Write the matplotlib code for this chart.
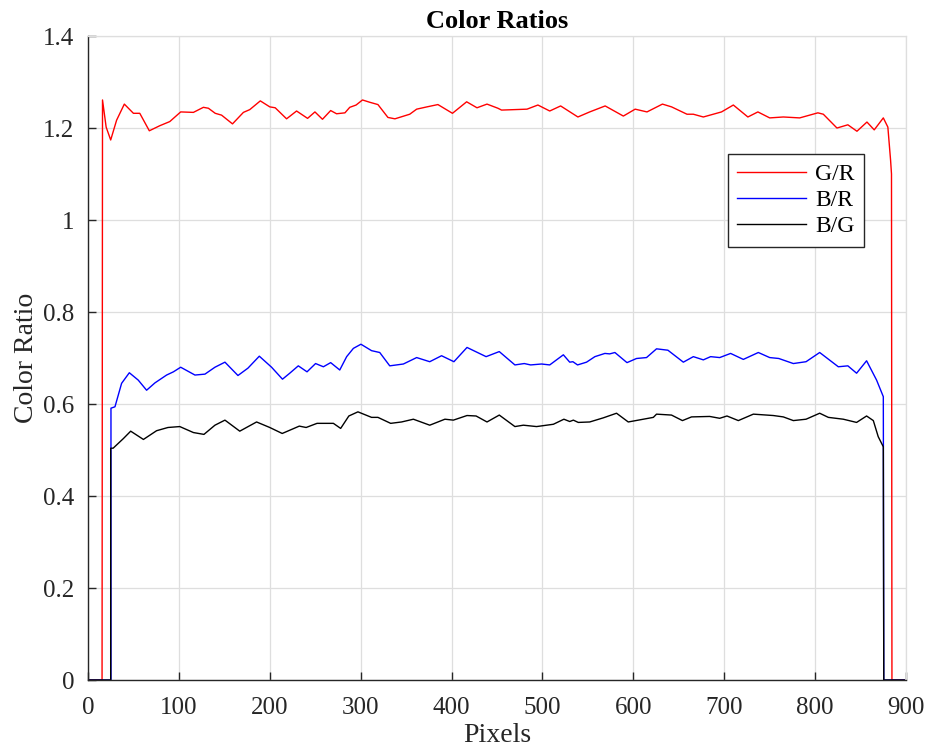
import matplotlib.pyplot as plt

plt.rcParams['font.family'] = ['Liberation Serif', 'DejaVu Serif']

# G/R ratio along the pixel row
gr_x = [1, 15.5, 16, 20, 25, 31.5, 40, 50, 57, 67.5, 79, 90, 102, 116, 127, 132.5,
        140, 147, 159, 171, 178, 189.6, 200, 206, 218.5, 229.5, 241.6, 249.7, 258,
        267, 273.5, 282.7, 288, 295, 302, 310, 319, 330, 337.7, 354, 361.6, 373, 385,
        401, 416.6, 428, 439, 451, 455, 483, 495, 508, 520, 539, 552, 569, 589, 602,
        615, 632, 642, 659, 666, 677, 697, 710, 726, 737, 750, 765, 783, 803, 809,
        824, 836, 846, 857, 865, 875, 880, 883, 884, 884.5, 898]
gr_y = [0, 0, 1.261, 1.202, 1.174, 1.217, 1.252, 1.232, 1.232, 1.194, 1.205, 1.214,
        1.235, 1.234, 1.245, 1.243, 1.232, 1.228, 1.209, 1.234, 1.240, 1.259, 1.246,
        1.244, 1.220, 1.237, 1.221, 1.235, 1.219, 1.238, 1.231, 1.233, 1.245, 1.250,
        1.261, 1.256, 1.251, 1.223, 1.220, 1.230, 1.241, 1.246, 1.251, 1.232, 1.257,
        1.244, 1.252, 1.243, 1.239, 1.241, 1.250, 1.237, 1.248, 1.224, 1.235, 1.248,
        1.226, 1.241, 1.235, 1.252, 1.246, 1.230, 1.230, 1.224, 1.235, 1.250, 1.224,
        1.235, 1.222, 1.224, 1.222, 1.233, 1.230, 1.200, 1.207, 1.193, 1.213, 1.196,
        1.222, 1.202, 1.13, 1.10, 0, 0]

# B/R ratio
br_x = [1, 25.3, 25.3, 29.7, 37, 45.5, 55.3, 64.5, 73.7, 86.5, 94, 102, 117.7, 128.7,
        139.7, 150.7, 165, 176, 188.5, 202, 214, 222, 231.4, 241, 250.4, 259, 267, 277,
        284.6, 292, 300.3, 312, 321, 332, 347, 361.6, 376, 389, 402.6, 417, 438, 452.5,
        469.7, 480, 487, 499, 508, 523, 530, 533.5, 538.6, 548.5, 557.7, 568.7, 574,
        579.7, 593, 603.5, 614.5, 625.5, 638, 655, 666, 677, 685, 695, 707, 721, 737.5,
        750, 760, 776, 790, 805, 825.5, 836, 845.6, 856.6, 867.6, 875, 875.5, 898]
br_y = [0, 0, 0.591, 0.594, 0.645, 0.668, 0.652, 0.630, 0.646, 0.663, 0.670, 0.680,
        0.663, 0.665, 0.680, 0.691, 0.662, 0.678, 0.704, 0.680, 0.654, 0.667, 0.683,
        0.670, 0.688, 0.681, 0.690, 0.674, 0.703, 0.721, 0.730, 0.716, 0.712, 0.683,
        0.687, 0.701, 0.692, 0.705, 0.692, 0.723, 0.703, 0.714, 0.685, 0.688, 0.685,
        0.687, 0.685, 0.707, 0.691, 0.692, 0.685, 0.691, 0.703, 0.710, 0.709, 0.712,
        0.690, 0.699, 0.701, 0.720, 0.717, 0.691, 0.703, 0.696, 0.703, 0.701, 0.710,
        0.697, 0.712, 0.701, 0.699, 0.688, 0.692, 0.712, 0.681, 0.683, 0.667, 0.694,
        0.652, 0.616, 0, 0]

# B/G ratio
bg_x = [1, 25, 25, 27.7, 39, 47, 61, 75.5, 88, 101, 116, 127.6, 139.7, 150.7, 167,
        185.5, 200, 213.7, 232.5, 240, 252, 270, 278, 287, 297, 312, 319, 333, 345,
        358, 376, 392.7, 402, 417, 427, 439, 452.5, 469.7, 479, 493.5, 512, 523.6, 530,
        534, 539.4, 552, 567, 581.5, 594.4, 611, 622, 625.5, 642, 654, 664, 684, 695,
        703, 715.5, 732, 754, 765, 776, 790, 805, 814.5, 831, 845.6, 856.6, 864, 869.4,
        875, 875.5, 898]
bg_y = [0, 0, 0.504, 0.504, 0.525, 0.541, 0.523, 0.542, 0.549, 0.551, 0.538, 0.534,
        0.554, 0.565, 0.541, 0.561, 0.549, 0.536, 0.552, 0.549, 0.558, 0.558, 0.547,
        0.574, 0.583, 0.571, 0.571, 0.558, 0.561, 0.567, 0.554, 0.567, 0.565, 0.575,
        0.574, 0.561, 0.576, 0.551, 0.554, 0.551, 0.556, 0.567, 0.562, 0.565, 0.560,
        0.561, 0.570, 0.580, 0.561, 0.567, 0.571, 0.578, 0.576, 0.564, 0.572, 0.573,
        0.569, 0.574, 0.564, 0.578, 0.575, 0.572, 0.564, 0.567, 0.580, 0.571, 0.567,
        0.560, 0.574, 0.564, 0.529, 0.507, 0, 0]

fig = plt.figure(figsize=(9.25, 7.52), dpi=100)
ax = fig.add_axes([0.0951, 0.0957, 0.8844, 0.8564])

ax.plot(gr_x, gr_y, color=(1, 0, 0), lw=1.0, label='G/R')
ax.plot(br_x, br_y, color=(0, 0, 1), lw=1.0, label='B/R')
ax.plot(bg_x, bg_y, color='black', lw=1.0, label='B/G')

ax.set_xlim(0, 900)
ax.set_ylim(0, 1.4)
ax.set_xticks(range(0, 901, 100))
ax.set_yticks([0, 0.2, 0.4, 0.6, 0.8, 1.0, 1.2, 1.4])
ax.set_yticklabels(['0', '0.2', '0.4', '0.6', '0.8', '1', '1.2', '1.4'])
ax.grid(True, color=(0.87, 0.87, 0.87), lw=0.9)
ax.set_axisbelow(True)

dark = (0.15, 0.15, 0.15)
for s in ['left', 'bottom']:
    ax.spines[s].set_color(dark)
    ax.spines[s].set_linewidth(1.0)
for s in ['top', 'right']:
    ax.spines[s].set_color((0.87, 0.87, 0.87))
    ax.spines[s].set_linewidth(0.9)
ax.tick_params(direction='in', length=6, width=1.0, colors=dark, labelsize=18,
               top=False, right=False)
ax.tick_params(axis='y', pad=10)
ax.tick_params(axis='x', pad=12)

ax.set_xlabel('Pixels', fontsize=20, color=dark, labelpad=3)
ax.set_ylabel('Color Ratio', fontsize=20, color=dark, labelpad=3)
ax.set_title('Color Ratios', fontsize=19, fontweight='bold', pad=6)

leg = ax.legend(loc='upper right', bbox_to_anchor=(0.949, 0.817), fontsize=17,
                frameon=True, fancybox=False, edgecolor=dark, framealpha=1,
                borderaxespad=0, handlelength=2.9, borderpad=0.4,
                labelspacing=0.2, handletextpad=0.4)
leg.get_frame().set_linewidth(1.0)

fig.savefig('out.png', dpi=100)
